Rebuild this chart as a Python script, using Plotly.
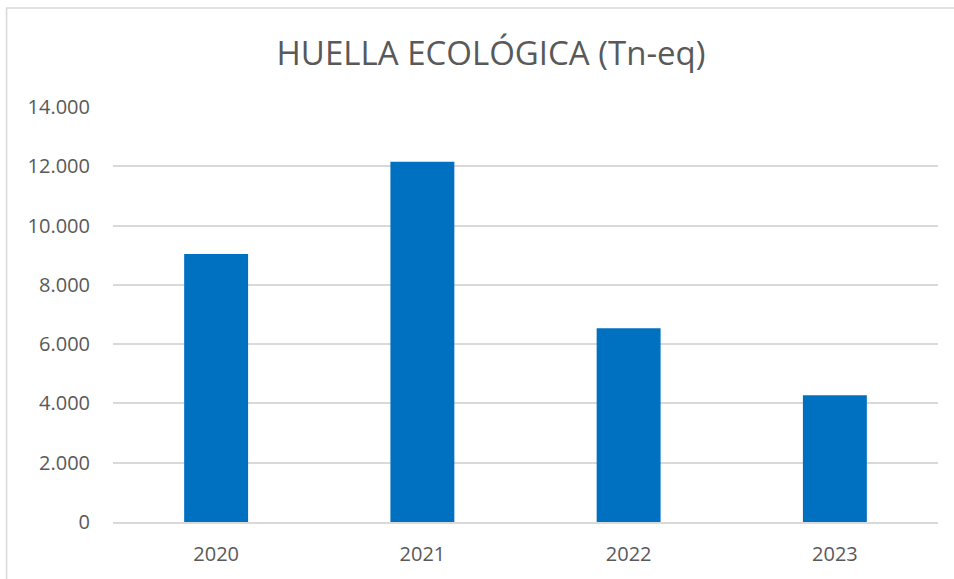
import plotly.graph_objects as go

# datos
years = ["2020", "2021", "2022", "2023"]
huella = [9040, 12155, 6535, 4275]
y_ticks = [0, 2000, 4000, 6000, 8000, 10000, 12000, 14000]

BLUE = "#0070C0"
GREY_TXT = "#595959"
GRID = "#d9d9d9"

fig = go.Figure()
fig.add_trace(go.Bar(
    x=years,
    y=huella,
    marker=dict(color=BLUE, line=dict(width=0)),
    hoverinfo="x+y",
))

# marco del gráfico (solo se ven el borde superior e izquierdo)
fig.add_shape(
    type="rect", xref="paper", yref="paper",
    x0=-0.129, x1=1.2, y0=-0.3, y1=1.2386,
    line=dict(color="#d9d9d9", width=1.5),
    fillcolor="rgba(0,0,0,0)",
    layer="below",
)

fig.update_layout(
    width=954,
    height=579,
    title=dict(
        text="HUELLA ECOLÓGICA (Tn-eq)",
        x=491 / 954, xanchor="center",
        y=1 - 53 / 579, yanchor="middle", yref="container",
        font=dict(family="Open Sans", size=33, color=GREY_TXT),
    ),
    separators=",.",
    bargap=0.69,
    plot_bgcolor="white",
    paper_bgcolor="white",
    showlegend=False,
    margin=dict(l=113, r=16, t=107, b=57),
    font=dict(family="Open Sans", color=GREY_TXT),
)
fig.update_xaxes(
    type="category",
    showline=True, linecolor=GRID, linewidth=1.5,
    showgrid=False,
    tickfont=dict(size=20, color=GREY_TXT),
    ticklabelstandoff=13,
    fixedrange=True,
)
fig.update_yaxes(
    range=[0, 14000],
    tickvals=y_ticks,
    tickformat=",d",
    showgrid=True, gridcolor=GRID, gridwidth=1.5,
    zeroline=False,
    tickfont=dict(size=20, color=GREY_TXT),
    ticklabelstandoff=22,
    fixedrange=True,
)

# quitar el margen por defecto del <body> para que la figura empiece en (0, 0)
fig.write_html(
    "out.html",
    config={"displayModeBar": False},
    post_script="document.body.style.margin='0';",
)
